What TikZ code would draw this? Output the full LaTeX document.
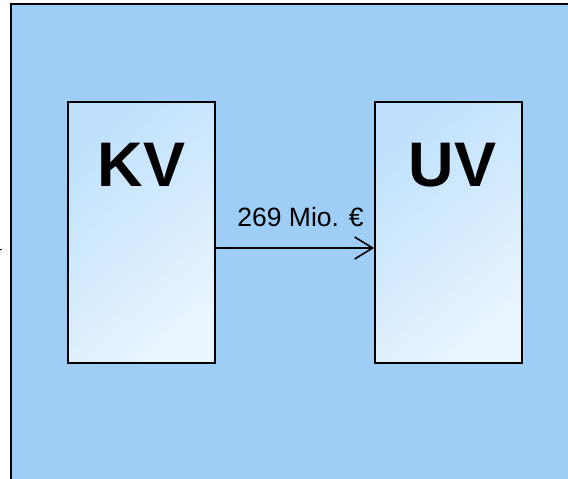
\documentclass[tikz,border=0pt]{standalone}
\usepackage{fontspec}
\setmainfont{Liberation Sans}
\usetikzlibrary{positioning, arrows.meta}
\definecolor{bgBlue}{HTML}{9ECEF6}
\definecolor{boxTop}{HTML}{BFE1FD}
\definecolor{boxBottom}{HTML}{EAF5FE}

\begin{document}
\begin{tikzpicture}[
        x=1pt, y=-1pt,
        accountBox/.style={draw, rectangle, line width=1.6pt, minimum width=147pt, minimum height=261pt, inner sep=0pt, top color=boxTop, bottom color=boxBottom, shading angle=40},
        titleNode/.style={inner sep=0pt, font=\fontsize{63}{63}\selectfont\bfseries},
        flowLabel/.style={inner sep=0pt, font=\fontsize{26.5}{26.5}\selectfont},
        arrow/.style={-{Straight Barb[length=18pt, width=22pt, line width=1.6pt]}, line width=1.6pt}
    ]
        % Background
        \clip (0,0) rectangle (568,479);
        \filldraw[fill=bgBlue, draw=black, line width=1.6pt] (11,4) rectangle (590,500);
        \draw[line width=1pt] (0,249) -- (2,249);

        % Nodes
        \node[accountBox] (kv) at (141.5,232.5) {};
        \node[accountBox] (uv) at (448.5,232.5) {};
        \node[titleNode, below=42pt of kv.north] (kvTitle) {KV};
        \node[titleNode, below=42pt of uv.north, xshift=4pt] (uvTitle) {UV};

        % Arrows
        \draw[arrow] (kv.east |- 0,248) coordinate (kvOut) -- (uv.west |- kvOut)
            node[flowLabel, midway, above=20pt, xshift=5.5pt] (flow) {269 Mio. €};
    \end{tikzpicture}
\end{document}
